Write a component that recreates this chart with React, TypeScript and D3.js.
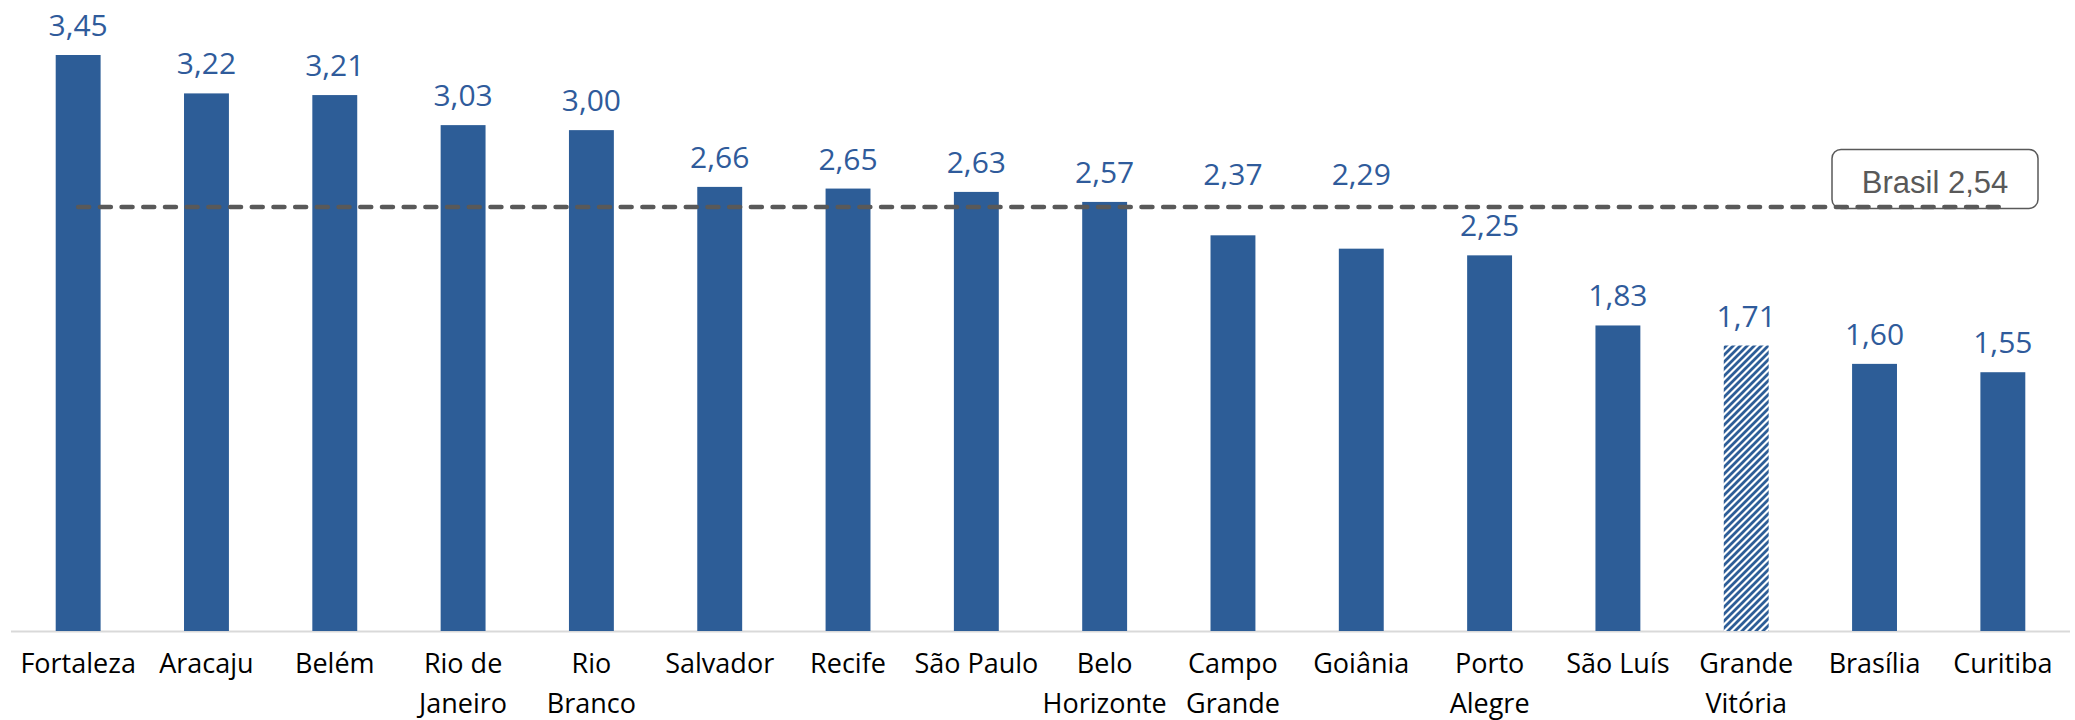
import React from "react";
import * as d3 from "d3";

const categories = [
  "Fortaleza", "Aracaju", "Belém", "Rio de\nJaneiro", "Rio\nBranco", "Salvador", "Recife", "São Paulo",
  "Belo\nHorizonte", "Campo\nGrande", "Goiânia", "Porto\nAlegre", "São Luís", "Grande\nVitória", "Brasília", "Curitiba",
];
const values = [3.45, 3.22, 3.21, 3.03, 3.0, 2.66, 2.65, 2.63, 2.57, 2.37, 2.29, 2.25, 1.83, 1.71, 1.6, 1.55];
const highlighted = ["Grande\nVitória"];
const brasilValue = 2.54;
const brasilLabel = "Brasil";

const W = 2075;
const H = 720;
const BLUE = "#2D5D97";
const LABEL_BLUE = "#2F5B9B";
const GRAY = "#595959";

const fmt = (v: number) => v.toFixed(2).replace(".", ",");

export default function App() {
  const x = d3.scaleBand<string>().domain(categories).range([14, 2067]).paddingInner(0.65).paddingOuter(0.325);
  const y = d3.scaleLinear().domain([0, 3.45]).range([631, 55]);
  const lineY = y(brasilValue);
  const bw = x.bandwidth();
  const first = x(categories[0])! + bw / 2;
  const last = x(categories[categories.length - 1])! + bw / 2;

  const labelBaseline = (v: number) => {
    const top = y(v);
    const base = top - 19;
    if (top > lineY && base - 24 < lineY + 4) return lineY - 22;
    return base;
  };

  const boxW = 206;
  const boxH = 59;
  const boxCx = 1935;

  return (
    <svg width={W} height={H} style={{ position: "absolute", left: 0, top: 0, background: "#fff" }}>
      <defs>
        <pattern id="hatch" patternUnits="userSpaceOnUse" width="7" height="7">
          <rect width="7" height="7" fill="#fff" />
          <path d="M-1.75,1.75 l3.5,-3.5 M0,7 l7,-7 M5.25,8.75 l3.5,-3.5" stroke={BLUE} strokeWidth="2.8" />
        </pattern>
      </defs>
      <line x1={11} x2={2070} y1={y(0) + 0.5} y2={y(0) + 0.5} stroke="#D9D9D9" strokeWidth={2} />
      {categories.map((c, i) => (
        <rect
          key={c}
          x={x(c)}
          y={y(values[i])}
          width={bw}
          height={y(0) - y(values[i])}
          fill={highlighted.includes(c) ? "url(#hatch)" : BLUE}
        />
      ))}
      {categories.map((c, i) => (
        <text
          key={"v" + c}
          x={x(c)! + bw / 2}
          y={labelBaseline(values[i])}
          textAnchor="middle"
          fontFamily="'Open Sans', sans-serif"
          fontSize={30}
          fill={LABEL_BLUE}
        >
          {fmt(values[i])}
        </text>
      ))}
      {categories.map((c) => (
        <text
          key={"c" + c}
          x={x(c)! + bw / 2}
          y={673}
          textAnchor="middle"
          fontFamily="'Open Sans', sans-serif"
          fontSize={27}
          fill="#000"
        >
          {c.split("\n").map((t, j) => (
            <tspan key={j} x={x(c)! + bw / 2} dy={j === 0 ? 0 : 40}>
              {t}
            </tspan>
          ))}
        </text>
      ))}
      <rect
        x={boxCx - boxW / 2}
        y={lineY + 1.5 - boxH}
        width={boxW}
        height={boxH}
        rx={9}
        fill="#fff"
        stroke={GRAY}
        strokeWidth={1.5}
      />
      <text
        x={boxCx}
        y={193}
        textAnchor="middle"
        fontFamily="'Liberation Sans', Arial, sans-serif"
        fontSize={31}
        fill={GRAY}
      >
        {brasilLabel} {fmt(brasilValue)}
      </text>
      <line
        x1={first}
        x2={last}
        y1={lineY}
        y2={lineY}
        stroke={GRAY}
        strokeWidth={4.5}
        strokeLinecap="round"
        strokeDasharray="11 10.7"
      />
    </svg>
  );
}
